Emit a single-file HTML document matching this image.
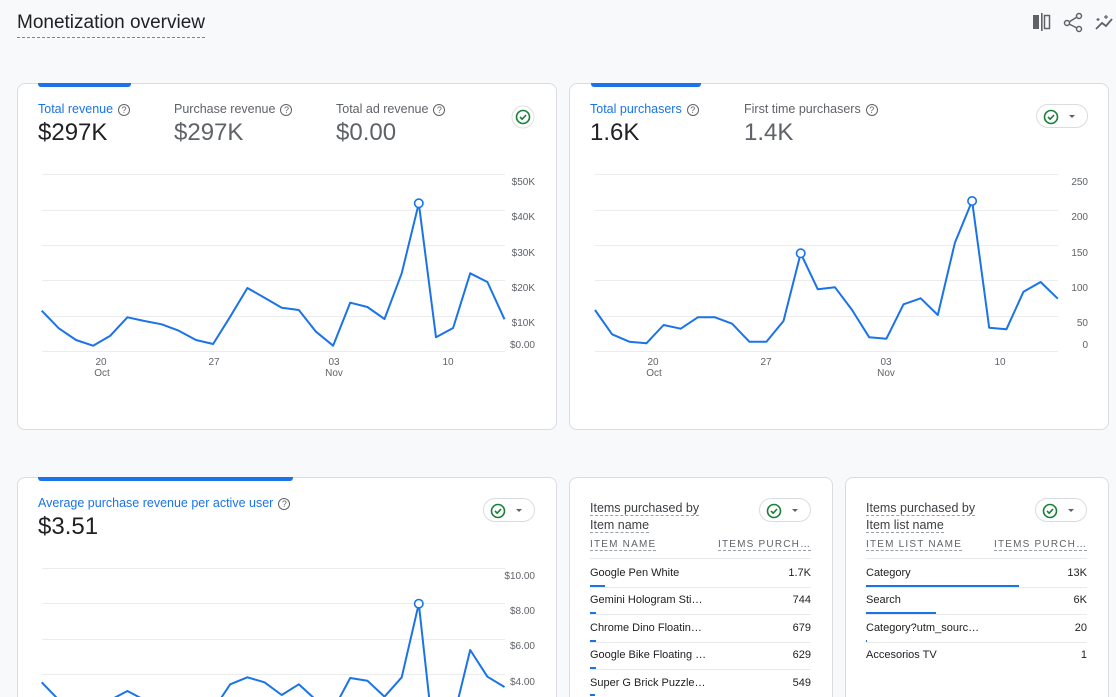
<!DOCTYPE html>
<html style="width:1116px;height:697px;overflow:hidden"><head><meta charset="utf-8"><style>
*{box-sizing:border-box;margin:0;padding:0}
body{width:1116px;height:697px;overflow:hidden;background:#f8f9fa;font-family:"Liberation Sans",sans-serif;position:relative;color:#202124}
.a{position:absolute;white-space:nowrap}
.card{position:absolute;background:#fff;border:1px solid #dadce0;border-radius:8px}
.cb{border-bottom:none;border-radius:8px 8px 0 0}
.tab{position:absolute;height:4px;background:#1a73e8;border-radius:0 0 3px 3px}
.lbl{font-size:12.5px;color:#5f6368}
.lbl.b{color:#1a73e8}
.q{display:inline-block;width:12px;height:12px;border:1.3px solid #5f6368;border-radius:50%;font-size:9px;line-height:10px;text-align:center;color:#5f6368;margin-left:5px;vertical-align:0px}
.val{font-size:24px}
.gray{color:#5f6368}
.pill{position:absolute;border:1px solid #dadce0;border-radius:12px;height:24px}
.dash{border-bottom:1px dashed #9aa0a6}
.th{font-size:10px;letter-spacing:1.2px;color:#5f6368}
.row{font-size:11px;color:#202124}
</style></head><body>
<div class="a" style="left:17px;top:12px;font-size:19px;color:#202124;border-bottom:1.5px dashed #80868b;padding-bottom:3px">Monetization overview</div>
<svg class="a" style="left:1030px;top:12px" width="86" height="24">
<rect x="3" y="3" width="6" height="14" fill="#5f6368"/><rect x="11" y="1" width="1.6" height="18" fill="#5f6368"/><rect x="14.5" y="3.5" width="5" height="13" fill="none" stroke="#5f6368" stroke-width="1.5"/>
<circle cx="49" cy="4" r="2.5" fill="none" stroke="#5f6368" stroke-width="1.5"/><circle cx="37" cy="11" r="2.5" fill="none" stroke="#5f6368" stroke-width="1.5"/><circle cx="49" cy="17" r="2.5" fill="none" stroke="#5f6368" stroke-width="1.5"/><path d="M39 10L47 5M39 12L47 16" stroke="#5f6368" stroke-width="1.5"/>
<path d="M66 17L72 11L76 14L82 7" fill="none" stroke="#5f6368" stroke-width="1.8"/><path d="M76 3v4M74 5h4M68 6v3M66.5 7.5h3" stroke="#5f6368" stroke-width="1.2"/>
</svg>

<div class="card" style="left:17px;top:83px;width:540px;height:347px"></div>
<div class="card" style="left:569px;top:83px;width:540px;height:347px"></div>
<div class="card cb" style="left:17px;top:477px;width:540px;height:220px"></div>
<div class="card cb" style="left:569px;top:477px;width:264px;height:220px"></div>
<div class="card cb" style="left:845px;top:477px;width:264px;height:220px"></div>

<div class="tab" style="left:38px;top:83px;width:93px"></div>
<div class="a lbl b" style="left:38px;top:102px">Total revenue<span class="q">?</span></div>
<div class="a lbl" style="left:174px;top:102px">Purchase revenue<span class="q">?</span></div>
<div class="a lbl" style="left:336px;top:102px">Total ad revenue<span class="q">?</span></div>
<div class="a val" style="left:38px;top:119px">$297K</div>
<div class="a val gray" style="left:174px;top:119px">$297K</div>
<div class="a val gray" style="left:336px;top:119px">$0.00</div>
<svg class="a" style="left:511px;top:105px" width="24" height="24"><circle cx="12" cy="12" r="11" fill="#fff" stroke="#e0e0e0"/><circle cx="12" cy="12" r="6.5" fill="none" stroke="#188038" stroke-width="1.6"/><path d="M9 12l2.2 2.2L15 10" fill="none" stroke="#188038" stroke-width="1.6"/></svg>

<svg class="a" style="left:0;top:0" width="1116" height="697">
<g stroke="#ececec" stroke-width="1">
<line x1="42" x2="505" y1="174.5" y2="174.5"/><line x1="42" x2="505" y1="210.5" y2="210.5"/><line x1="42" x2="505" y1="245.5" y2="245.5"/><line x1="42" x2="505" y1="280.5" y2="280.5"/><line x1="42" x2="505" y1="316.5" y2="316.5"/><line x1="42" x2="505" y1="351.5" y2="351.5"/>
<line x1="595" x2="1058" y1="174.5" y2="174.5"/><line x1="595" x2="1058" y1="210.5" y2="210.5"/><line x1="595" x2="1058" y1="245.5" y2="245.5"/><line x1="595" x2="1058" y1="280.5" y2="280.5"/><line x1="595" x2="1058" y1="316.5" y2="316.5"/><line x1="595" x2="1058" y1="351.5" y2="351.5"/>
<line x1="42" x2="505" y1="568.5" y2="568.5"/><line x1="42" x2="505" y1="603.5" y2="603.5"/><line x1="42" x2="505" y1="639.5" y2="639.5"/><line x1="42" x2="505" y1="674.5" y2="674.5"/>
</g>
<g fill="none" stroke="#1a73e8" stroke-width="2" stroke-linejoin="round">
<polyline points="41.7,310.7 58.8,328.3 76,340 93.1,345.7 110.3,335.7 127.4,317.3 144.5,321 161.7,324.3 178.8,330.7 196,340 213.1,344 230.2,316.7 247.4,288 264.5,297.7 281.7,307.7 298.8,310 316,331.7 333.1,345.7 350.2,302.7 367.4,307 384.5,319 401.7,273.3 418.8,203.3 436,337.3 453.1,328 470.2,273.3 487.4,282 504.5,319.3"/>
<polyline points="595,310 612.1,334.3 629.3,341.7 646.4,343.3 663.6,325 680.7,328.7 697.8,317.3 715,317.3 732.1,323.7 749.3,341.7 766.4,341.7 783.5,321 800.7,253.3 817.8,289.3 835,287.3 852.1,310 869.2,337.3 886.4,338.7 903.5,304.3 920.7,298.3 937.8,315 954.9,242.7 972.1,201 989.2,327.7 1006.4,329.3 1023.5,291.7 1040.6,282 1057.8,298.7"/>
<polyline points="41.7,682.3 58.8,700 76,710 93.1,715 110.3,700 127.4,691 144.5,700 161.7,710 178.8,715 196,720 213.1,710 230.2,684.3 247.4,677.3 264.5,682.3 281.7,695 298.8,684.3 316,700 333.1,710 350.2,678 367.4,680.7 384.5,696.7 401.7,677.3 418.8,603.7 436,760 453.1,720 470.2,650 487.4,676.7 504.5,687"/>
</g>
<g fill="#fff" stroke="#1a73e8" stroke-width="1.6">
<circle cx="418.8" cy="203.3" r="4.2"/><circle cx="800.7" cy="253.3" r="4.2"/><circle cx="972.1" cy="201" r="4.2"/><circle cx="418.8" cy="603.7" r="4.2"/>
</g>
<g font-size="10" fill="#5f6368" font-family="Liberation Sans" text-anchor="end">
<text x="535" y="185">$50K</text><text x="535" y="220">$40K</text><text x="535" y="256">$30K</text><text x="535" y="291">$20K</text><text x="535" y="326">$10K</text><text x="535" y="348">$0.00</text>
<text x="1088" y="185">250</text><text x="1088" y="220">200</text><text x="1088" y="256">150</text><text x="1088" y="291">100</text><text x="1088" y="326">50</text><text x="1088" y="348">0</text>
<text x="535" y="579">$10.00</text><text x="535" y="614">$8.00</text><text x="535" y="649">$6.00</text><text x="535" y="685">$4.00</text>
</g>
<g font-size="10" fill="#5f6368" font-family="Liberation Sans" text-anchor="middle">
<text x="101" y="365">20</text><text x="102" y="376">Oct</text><text x="214" y="365">27</text><text x="334" y="365">03</text><text x="334" y="376">Nov</text><text x="448" y="365">10</text>
<text x="653" y="365">20</text><text x="654" y="376">Oct</text><text x="766" y="365">27</text><text x="886" y="365">03</text><text x="886" y="376">Nov</text><text x="1000" y="365">10</text>
</g>
</svg>

<div class="tab" style="left:591px;top:83px;width:110px"></div>
<div class="a lbl b" style="left:590px;top:102px">Total purchasers<span class="q">?</span></div>
<div class="a lbl" style="left:744px;top:102px">First time purchasers<span class="q">?</span></div>
<div class="a val" style="left:590px;top:119px">1.6K</div>
<div class="a val gray" style="left:744px;top:119px">1.4K</div>
<div class="pill" style="left:1036px;top:104px;width:52px"><svg class="a" style="left:5px;top:3px" width="40" height="18"><circle cx="9" cy="9" r="6.5" fill="none" stroke="#188038" stroke-width="1.6"/><path d="M6 9l2.2 2.2L12 7" fill="none" stroke="#188038" stroke-width="1.6"/><path d="M27 7h6l-3 3z" fill="#5f6368"/></svg></div>

<div class="tab" style="left:38px;top:477px;width:255px"></div>
<div class="a lbl b" style="left:38px;top:496px">Average purchase revenue per active user<span class="q">?</span></div>
<div class="a val" style="left:38px;top:513px">$3.51</div>
<div class="pill" style="left:483px;top:498px;width:52px"><svg class="a" style="left:5px;top:3px" width="40" height="18"><circle cx="9" cy="9" r="6.5" fill="none" stroke="#188038" stroke-width="1.6"/><path d="M6 9l2.2 2.2L12 7" fill="none" stroke="#188038" stroke-width="1.6"/><path d="M27 7h6l-3 3z" fill="#5f6368"/></svg></div>

<div class="a lbl" style="left:590px;top:500px;color:#3c4043;font-size:12.5px;line-height:17px"><span class="dash">Items purchased by</span><br><span class="dash">Item name</span></div>
<div class="pill" style="left:759px;top:498px;width:52px"><svg class="a" style="left:5px;top:3px" width="40" height="18"><circle cx="9" cy="9" r="6.5" fill="none" stroke="#188038" stroke-width="1.6"/><path d="M6 9l2.2 2.2L12 7" fill="none" stroke="#188038" stroke-width="1.6"/><path d="M27 7h6l-3 3z" fill="#5f6368"/></svg></div>
<div class="a th dash" style="left:590px;top:539px">ITEM NAME</div>
<div class="a th dash" style="left:718px;top:539px;width:93px;overflow:hidden;text-overflow:ellipsis">ITEMS PURCHASED</div>
<div class="a" style="left:590px;top:558px;width:221px;border-top:1px solid #e8eaed"></div>
<div class="a row" style="left:590px;top:567px">Google Pen White</div><div class="a row" style="left:700px;top:567px;width:111px;text-align:right">1.7K</div>
<div class="a" style="left:590px;top:585px;width:15px;height:2px;background:#1a73e8"></div><div class="a" style="left:590px;top:587px;width:221px;border-top:1px solid #e8eaed"></div>
<div class="a row" style="left:590px;top:594px">Gemini Hologram Sti…</div><div class="a row" style="left:700px;top:594px;width:111px;text-align:right">744</div>
<div class="a" style="left:590px;top:612px;width:6px;height:2px;background:#1a73e8"></div><div class="a" style="left:590px;top:614px;width:221px;border-top:1px solid #e8eaed"></div>
<div class="a row" style="left:590px;top:622px">Chrome Dino Floatin…</div><div class="a row" style="left:700px;top:622px;width:111px;text-align:right">679</div>
<div class="a" style="left:590px;top:640px;width:6px;height:2px;background:#1a73e8"></div><div class="a" style="left:590px;top:642px;width:221px;border-top:1px solid #e8eaed"></div>
<div class="a row" style="left:590px;top:649px">Google Bike Floating …</div><div class="a row" style="left:700px;top:649px;width:111px;text-align:right">629</div>
<div class="a" style="left:590px;top:667px;width:6px;height:2px;background:#1a73e8"></div><div class="a" style="left:590px;top:669px;width:221px;border-top:1px solid #e8eaed"></div>
<div class="a row" style="left:590px;top:677px">Super G Brick Puzzle…</div><div class="a row" style="left:700px;top:677px;width:111px;text-align:right">549</div>
<div class="a" style="left:590px;top:694px;width:5px;height:2px;background:#1a73e8"></div>

<div class="a lbl" style="left:866px;top:500px;color:#3c4043;font-size:12.5px;line-height:17px"><span class="dash">Items purchased by</span><br><span class="dash">Item list name</span></div>
<div class="pill" style="left:1035px;top:498px;width:52px"><svg class="a" style="left:5px;top:3px" width="40" height="18"><circle cx="9" cy="9" r="6.5" fill="none" stroke="#188038" stroke-width="1.6"/><path d="M6 9l2.2 2.2L12 7" fill="none" stroke="#188038" stroke-width="1.6"/><path d="M27 7h6l-3 3z" fill="#5f6368"/></svg></div>
<div class="a th dash" style="left:866px;top:539px">ITEM LIST NAME</div>
<div class="a th dash" style="left:994px;top:539px;width:93px;overflow:hidden;text-overflow:ellipsis">ITEMS PURCHASED</div>
<div class="a" style="left:866px;top:558px;width:221px;border-top:1px solid #e8eaed"></div>
<div class="a row" style="left:866px;top:567px">Category</div><div class="a row" style="left:976px;top:567px;width:111px;text-align:right">13K</div>
<div class="a" style="left:866px;top:585px;width:153px;height:2px;background:#1a73e8"></div><div class="a" style="left:866px;top:587px;width:221px;border-top:1px solid #e8eaed"></div>
<div class="a row" style="left:866px;top:594px">Search</div><div class="a row" style="left:976px;top:594px;width:111px;text-align:right">6K</div>
<div class="a" style="left:866px;top:612px;width:70px;height:2px;background:#1a73e8"></div><div class="a" style="left:866px;top:614px;width:221px;border-top:1px solid #e8eaed"></div>
<div class="a row" style="left:866px;top:622px">Category?utm_sourc…</div><div class="a row" style="left:976px;top:622px;width:111px;text-align:right">20</div>
<div class="a" style="left:866px;top:640px;width:1px;height:2px;background:#1a73e8"></div><div class="a" style="left:866px;top:642px;width:221px;border-top:1px solid #e8eaed"></div>
<div class="a row" style="left:866px;top:649px">Accesorios TV</div><div class="a row" style="left:976px;top:649px;width:111px;text-align:right">1</div>
</body></html>
